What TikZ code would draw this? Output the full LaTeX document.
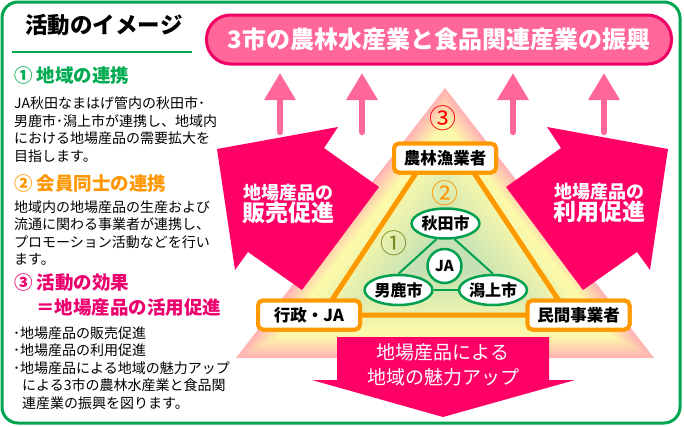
\documentclass[tikz,border=0pt]{standalone}
\usepackage{fontspec}
\setmainfont{Noto Sans CJK JP}
\usepackage{tikz}
\usetikzlibrary{arrows.meta, positioning, shapes.geometric}

\definecolor{framegreen}{RGB}{0,165,80}
\definecolor{headgreen}{RGB}{0,170,80}
\definecolor{headorange}{RGB}{255,150,0}
\definecolor{headpink}{RGB}{235,0,110}
\definecolor{bannerfill}{RGB}{255,102,153}
\definecolor{bannerdraw}{RGB}{240,0,100}
\definecolor{arrowpink}{RGB}{255,0,102}
\definecolor{lightarrow}{RGB}{255,102,153}
\definecolor{lineorange}{RGB}{255,153,0}
\definecolor{netgreen}{RGB}{0,160,80}
\definecolor{oneolive}{RGB}{120,140,40}
\definecolor{trpink}{RGB}{255,180,180}
\definecolor{tryellow}{RGB}{252,250,170}
\definecolor{trgreen}{RGB}{198,226,180}

\begin{document}
\begin{tikzpicture}[
            x=1pt, y=-1pt,
            heading/.style={font=\fontsize{18.5}{20}\selectfont\bfseries, anchor=west, inner sep=0pt},
            body/.style={font=\fontsize{14}{17.5}\selectfont, align=left, anchor=north west, inner sep=0pt},
            actor/.style={draw=lineorange, line width=4pt, fill=white, rounded corners=5pt, minimum width=102pt, minimum height=29pt, inner sep=0pt, font=\fontsize{16.5}{18}\selectfont\bfseries},
            city/.style={ellipse, draw=netgreen, line width=2.5pt, fill=white, minimum width=64pt, minimum height=30pt, inner sep=0pt, font=\fontsize{16}{18}\selectfont\bfseries},
            circnum/.style={font=\fontsize{27}{27}\selectfont, inner sep=0pt},
            bigarrow/.style={fill=arrowpink},
            uparrow/.style={draw=lightarrow, line width=6.5pt, line cap=round, -{Triangle[width=30pt, length=27pt]}},
        ]
        \useasboundingbox (0,0) rectangle (684,426);
        \draw[framegreen, line width=3pt, rounded corners=16pt] (2,2) rectangle (680,423);

        \node[font=\fontsize{22.5}{24}\selectfont\bfseries, inner sep=0pt] (ttl) at (104,25) {活動のイメージ};
        \draw[framegreen, line width=2pt] (12,52) -- (192,52);

        \node[heading, text=headgreen] (h1) at (14,75) {① 地域の連携};
        \node[body] (p1) at (14,96.5) {JA秋田なまはげ管内の秋田市･\\男鹿市･潟上市が連携し、地域内\\における地場産品の需要拡大を\\目指します。};
        \node[heading, text=headorange] (h2) at (14,183) {② 会員同士の連携};
        \node[body] (p2) at (14,200.5) {地域内の地場産品の生産および\\流通に関わる事業者が連携し、\\プロモーション活動などを行い\\ます。};
        \node[heading, text=headpink] (h3) at (14,283) {③ 活動の効果};
        \node[heading, text=headpink] (h3b) at (36,307) {＝地場産品の活用促進};
        \node[body] (p3) at (13,326.5) {･地場産品の販売促進\\･地場産品の利用促進\\･地場産品による地域の魅力アップ\\\hspace*{9pt}による3市の農林水産業と食品関\\\hspace*{9pt}連産業の振興を図ります。};

        \foreach \k in {0,...,9} {
            \pgfmathsetmacro\p{\k*10}
            \pgfmathsetmacro\s{1-\k*0.02}
            \fill[tryellow!\p!trpink, scale around={\s:(445,255)}] (445,88) -- (654,358) -- (236,358) -- cycle;
        }
        \foreach \k in {0,...,10} {
            \pgfmathsetmacro\p{\k*10}
            \pgfmathsetmacro\s{0.8-\k*0.06}
            \fill[trgreen!\p!tryellow, scale around={\s:(445,255)}] (445,88) -- (654,358) -- (236,358) -- cycle;
        }

        \node[draw=bannerdraw, line width=3pt, fill=bannerfill, rounded corners=24pt, minimum width=465pt, minimum height=49pt, text=white, font=\fontsize{24}{26}\selectfont\bfseries] (goal) at (439,39.5) {3市の農林水産業と食品関連産業の振興};

        \foreach \ux [count=\i] in {280,362,513,604} {
            \coordinate (up\i) at (\ux,132);
            \coordinate (tip\i) at (\ux,73);
            \draw[uparrow] (up\i) -- (tip\i);
        }

        \fill[bigarrow] (217,149) -- (338,127) -- (324,148) -- (379,187) -- (302,290) -- (248,252) -- (235,270) -- cycle;
        \fill[bigarrow] (668,149) -- (547,127) -- (561,148) -- (506,187) -- (583,290) -- (637,252) -- (650,270) -- cycle;
        \fill[bigarrow] (337,337) -- (549,337) -- (549,380) -- (575,380) -- (443,417) -- (312,380) -- (337,380) -- cycle;

        \node[text=white, align=center, inner sep=0pt] (sell) at (288,204) {{\fontsize{18}{24}\selectfont\bfseries 地場産品の}\\{\fontsize{23}{24}\selectfont\bfseries 販売促進}};
        \node[text=white, align=center, inner sep=0pt] (use) at (599,203) {{\fontsize{18}{24}\selectfont\bfseries 地場産品の}\\{\fontsize{23}{24}\selectfont\bfseries 利用促進}};
        \node[text=white, align=center, inner sep=0pt, font=\fontsize{19}{25}\selectfont] (appeal) at (443,365) {地場産品による\\地域の魅力アップ};

        \node[actor] (ag) at (445,158) {農林漁業者};
        \node[actor] (gov) at (309,315) {行政・JA};
        \node[actor] (biz) at (578.5,315) {民間事業者};
        \draw[lineorange, line width=5pt] ([xshift=-19pt]ag.center) -- ([xshift=13pt]gov.center) -- ([xshift=-10pt]biz.center) -- ([xshift=19pt]ag.center) -- cycle;
        \node[actor] at (ag) {農林漁業者};
        \node[actor] at (gov) {行政・JA};
        \node[actor] at (biz) {民間事業者};

        \node[circnum, text=red] (n3) at (443,118) {③};
        \node[circnum, text=headorange] (n2) at (445,193) {②};
        \node[circnum, text=oneolive] (n1) at (394,243) {①};

        \node[city] (akita) at (445.5,223.5) {秋田市};
        \node[city] (oga) at (398.5,290) {男鹿市};
        \node[city] (kata) at (493,290) {潟上市};
        \node[circle, draw=netgreen, line width=2.5pt, fill=white, minimum size=34pt, inner sep=0pt, font=\fontsize{15}{17}\selectfont\bfseries] (ja) at (444.5,266) {JA};
        \draw[netgreen, line width=2pt] (akita.240) -- (oga.north);
        \draw[netgreen, line width=2pt] (akita.300) -- (kata.north);
        \draw[netgreen, line width=2pt] (oga) -- (kata);
\end{tikzpicture}
\end{document}
